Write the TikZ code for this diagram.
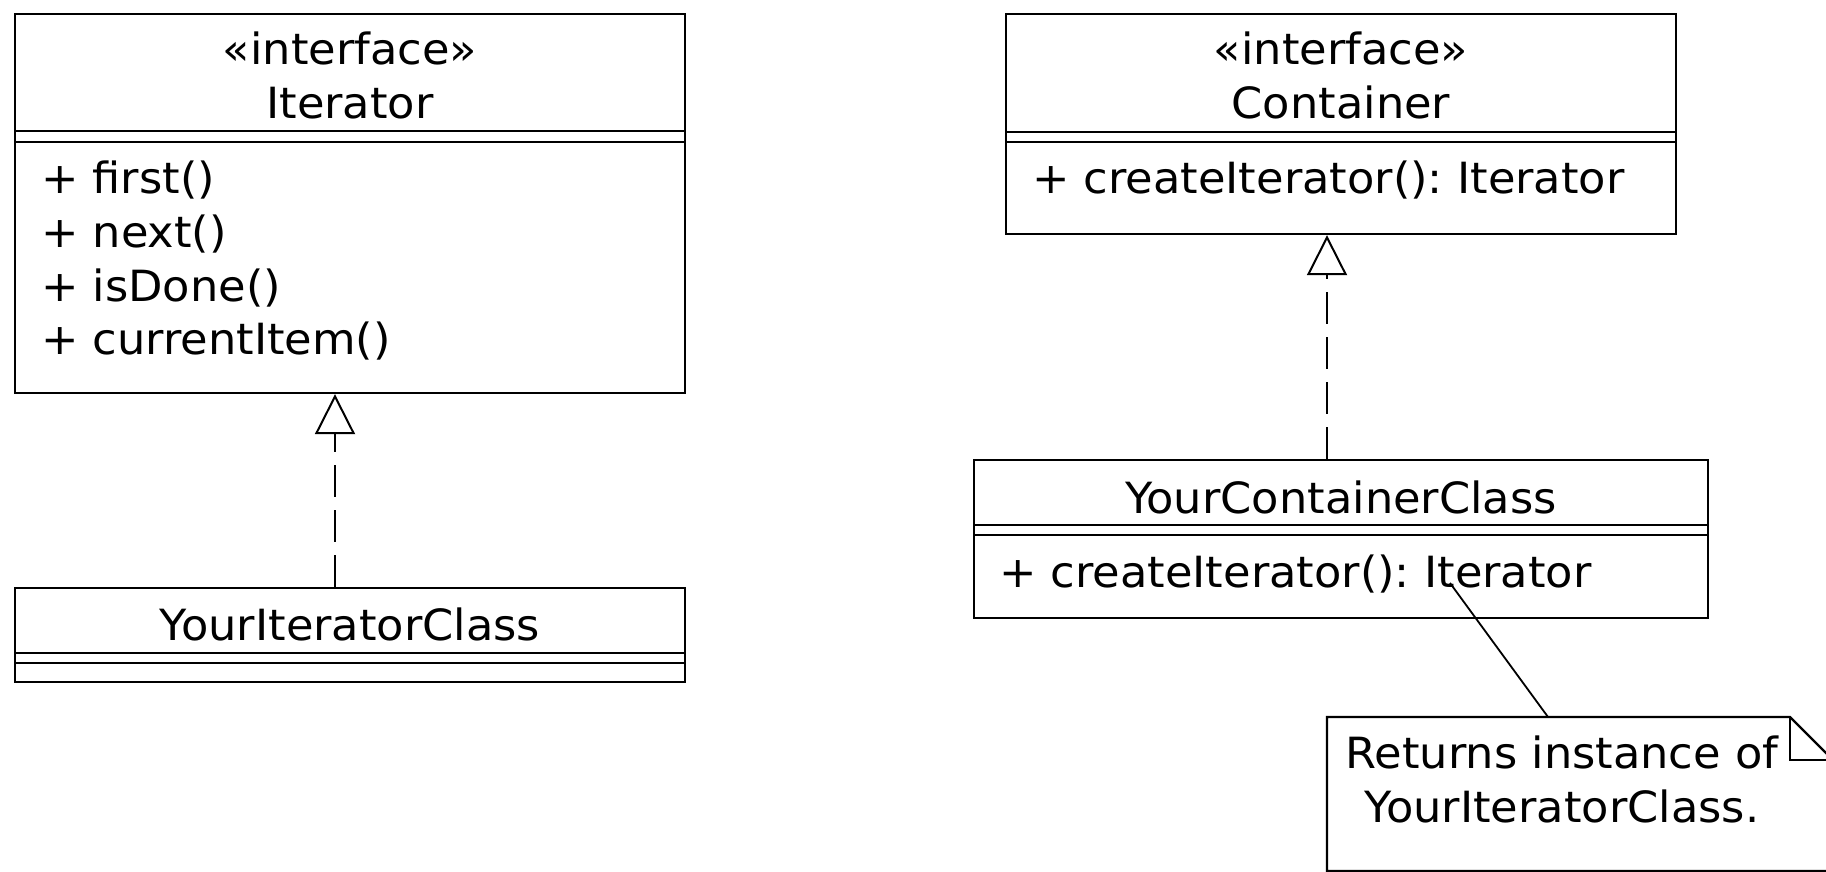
\documentclass[tikz,border=0pt]{standalone}
\usepackage{fontspec}
\setmainfont{DejaVu Sans}[FakeStretch=1.04]
\usepackage{tikz}
\usetikzlibrary{arrows.meta}
\tikzset{
  umlbox/.style = {rectangle, draw=black, line width=1.2pt, inner sep=0pt,
    font=\fontsize{21.5pt}{27pt}\selectfont},
  cls_name/.style = {umlbox, align=center, minimum width=335pt},% classe, nom
  cls_attr/.style = {umlbox, minimum width=335pt, minimum height=5.5pt},% classe, attributs (vide)
  cls_meth/.style = {umlbox, text width=309pt, align=left,
    minimum width=335pt},% classe, operations
  note_txt/.style = {inner sep=0pt, align=center,
    font=\fontsize{21.5pt}{27pt}\selectfont},% note
  note_line/.style = {line width=1.2pt, line join=miter},
  realize/.style = {line width=1pt, dash pattern=on 16pt off 6.5pt,
    -{Triangle[open, length=20pt, width=20pt, line width=1pt]}},
  note_link/.style = {line width=0.9pt},
}

\begin{document}
\frenchspacing
\begin{tikzpicture}[x=0.5pt,y=-0.5pt]
  \clip (0,0) rectangle (1826,872);
  \fill[white] (0,0) rectangle (1826,872);
%   Iterator side
  \node[cls_name, minimum height=58.5pt, text height=47pt, text depth=0.5pt] (itn)
    at (350,72.5) {«interface»\\Iterator};
  \node[cls_attr] (ita) at (350,136.5) {};
  \node[cls_meth, minimum height=125.5pt, text height=16pt, text depth=90.5pt] (itm)
    at (350,267.5) {+ first()\\+ next()\\+ isDone()\\+ currentItem()};

  \node[cls_name, minimum height=32.5pt, text height=20pt, text depth=0.5pt] (yin)
    at (350,620.5) {YourIteratorClass};
  \node[cls_attr, minimum height=5pt] (yia) at (350,658) {};
  \node[cls_attr, minimum height=9.5pt] (yim) at (350,672.5) {};

%   Container side
  \node[cls_name, minimum height=59pt, text height=46.5pt, text depth=0.5pt] (con)
    at (1341,73) {«interface»\\Container};
  \node[cls_attr, minimum height=5pt] (coa) at (1341,137) {};
  \node[cls_meth, minimum height=46pt, text height=16pt, text depth=11pt] (com)
    at (1341,188) {+ createIterator(): Iterator};

  \node[cls_name, minimum width=367pt, minimum height=32.5pt, text height=21pt,
    text depth=0.5pt] (ycn) at (1341,492.5) {YourContainerClass};
  \node[cls_attr, minimum width=367pt, minimum height=5pt] (yca) at (1341,530) {};
  \node[cls_meth, minimum width=367pt, text width=342pt, minimum height=41.5pt,
    text height=16pt, text depth=5pt] (ycm) at (1341,576.5) {+ createIterator(): Iterator};

%   note
  \draw[note_line] (1327,717) -- (1790,717) -- (1833,760) -- (1833,871)
    -- (1327,871) -- cycle;
  \draw[note_line] (1790,717) -- (1790,760) -- (1833,760);
  \node[note_txt, text height=43.5pt, text depth=0.5pt] (nt) at (1562,779)
    {Returns instance of\\YourIteratorClass.};

%   realizations
  \path[realize] ([xshift=-7.5pt]yin.north) edge ([xshift=-7.5pt]itm.south);
  \path[realize] ([xshift=-7pt]ycn.north) edge ([xshift=-7pt]com.south);
%   note link
  \coordinate (ref) at (1450,583);
  \coordinate (ntop) at (1548,717);
  \draw[note_link] (ref) -- (ntop);
\end{tikzpicture}
\end{document}
